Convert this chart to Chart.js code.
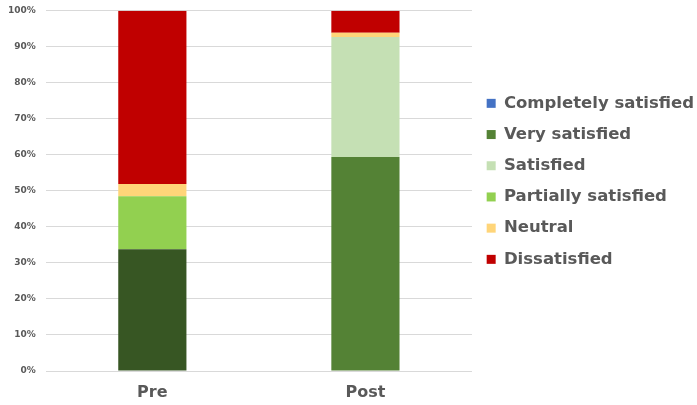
<!DOCTYPE html>
<html>
<head>
<meta charset="utf-8">
<script src="https://cdn.jsdelivr.net/npm/chart.js@4/dist/chart.umd.min.js"></script>
<style>
  html, body { margin: 0; padding: 0; background: #ffffff; }
  #wrap { width: 697px; height: 405px; position: relative; }
</style>
</head>
<body>
<div id="wrap"><canvas id="chart"></canvas></div>
<script>
// Survey periods
const categories = ['Pre', 'Post'];

// Share of respondents per satisfaction level (%)
const completelySatisfied = [0, 0];
const verySatisfied = [33.8, 59.4];
const satisfied = [0, 33.3];
const partiallySatisfied = [14.7, 0];
const neutral = [3.4, 1.2];
const dissatisfied = [48.1, 6.1];

const yTicks = [0, 10, 20, 30, 40, 50, 60, 70, 80, 90, 100];

const FONT = '"DejaVu Sans", sans-serif';
const TEXT = '#595959';

const datasets = [
  { label: 'Completely satisfied', data: completelySatisfied, backgroundColor: '#4472C4' },
  { label: 'Very satisfied', data: verySatisfied, backgroundColor: ['#375623', '#548235'] },
  { label: 'Satisfied', data: satisfied, backgroundColor: '#C5E0B4' },
  { label: 'Partially satisfied', data: partiallySatisfied, backgroundColor: '#92D050' },
  { label: 'Neutral', data: neutral, backgroundColor: '#FFD579' },
  { label: 'Dissatisfied', data: dissatisfied, backgroundColor: '#C00000' }
].map(d => Object.assign(d, {
  barPercentage: 0.32,
  categoryPercentage: 1.0,
  borderWidth: 0
}));

// Legend swatches use the series' main colour
const legendColors = ['#4472C4', '#548235', '#C5E0B4', '#92D050', '#FFD579', '#C00000'];

new Chart(document.getElementById('chart'), {
  type: 'bar',
  data: { labels: categories, datasets: datasets },
  options: {
    responsive: true,
    maintainAspectRatio: false,
    animation: false,
    layout: { padding: { top: 0, right: -7, left: -2, bottom: 0 } },
    plugins: {
      tooltip: { enabled: false },
      legend: {
        position: 'right',
        align: 'start',
        maxWidth: 260,
        // empty title spacer pushes the key list down beside the plot
        title: {
          display: true,
          text: ' ',
          font: { family: FONT, size: 12 },
          padding: { top: 36, bottom: 30 }
        },
        labels: {
          boxWidth: 9,
          boxHeight: 9,
          padding: 14.7,
          color: TEXT,
          font: { family: FONT, size: 16.5, weight: 'bold' },
          generateLabels: (chart) => chart.data.datasets.map((d, i) => ({
            text: d.label,
            fillStyle: legendColors[i],
            strokeStyle: legendColors[i],
            lineWidth: 0,
            fontColor: TEXT,
            hidden: false,
            datasetIndex: i
          }))
        }
      }
    },
    scales: {
      x: {
        stacked: true,
        grid: { display: false, drawTicks: false },
        border: { display: false },
        ticks: {
          color: TEXT,
          padding: 12,
          font: { family: FONT, size: 16, weight: 'bold' }
        },
        afterFit: (scale) => { scale.height = 34; }
      },
      y: {
        stacked: true,
        min: 0,
        max: 100,
        afterBuildTicks: (axis) => { axis.ticks = yTicks.map(v => ({ value: v })); },
        afterFit: (scale) => { scale.paddingTop = 10.7; },
        grid: { color: '#D9D9D9', lineWidth: 1, drawTicks: false },
        border: { display: false },
        ticks: {
          color: TEXT,
          padding: 10,
          font: { family: FONT, size: 9, weight: 'bold' },
          callback: (v) => v + '%'
        }
      }
    }
  }
});
</script>
</body>
</html>
